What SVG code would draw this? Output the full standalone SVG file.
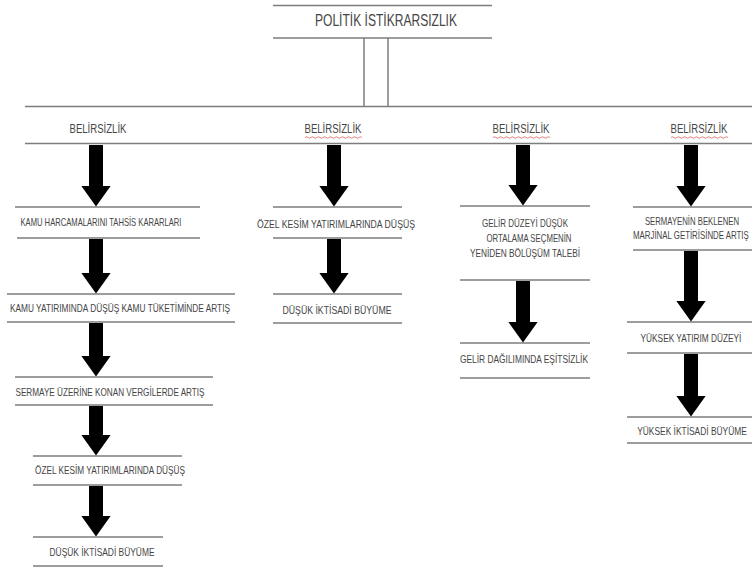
<svg xmlns="http://www.w3.org/2000/svg" xmlns:xlink="http://www.w3.org/1999/xlink" width="752" height="570" viewBox="0 0 752 570">
  <style>
    .rule { stroke: #7d7d7d; stroke-width: 1.5; fill: none; }
    .txt { font-family: "Liberation Sans", Arial, sans-serif; fill: #454545; text-anchor: middle; }
    .title { font-size: 17px; }
    .head { font-size: 12.5px; }
    .lbl { font-size: 10.5px; }
    .shaft { stroke: #000; stroke-width: 14; fill: none; marker-end: url(#head); }
    .squig { stroke: #e07070; stroke-width: 0.9; fill: none; }
  </style>
  <defs>
    <marker id="head" markerUnits="userSpaceOnUse" viewBox="0 -15 21 30" markerWidth="21" markerHeight="30" refX="0.5" refY="0" orient="auto">
      <path d="M0,-15 L21,0 L0,15 Z" fill="#000"/>
    </marker>
    <path id="squiggle" class="squig" d="M0 0 q1.5 -1.5 3 0 t3 0 t3 0 t3 0 t3 0 t3 0 t3 0 t3 0 t3 0 t3 0 t3 0 t3 0 t3 0 t3 0 t3 0 t3 0 t3 0 t3 0 t3 0"/>
  </defs>
  <rect width="752" height="570" fill="#fff"/>

  <!-- top node -->
  <g id="politik-istikrarsizlik">
    <line class="rule" x1="273" y1="5.5" x2="492" y2="5.5"/>
    <text class="txt title" x="386" y="26" textLength="142" lengthAdjust="spacingAndGlyphs">POLİTİK İSTİKRARSIZLIK</text>
    <line class="rule" x1="273" y1="38" x2="492" y2="38"/>
  </g>

  <!-- uncertainty band -->
  <g id="belirsizlik-band">
    <line class="rule" x1="25" y1="106.5" x2="752" y2="106.5"/>
    <line class="rule" x1="25" y1="143.5" x2="752" y2="143.5"/>
  </g>
  <g id="belirsizlik-1">
    <text class="txt head" x="98" y="133" textLength="57" lengthAdjust="spacingAndGlyphs">BELİRSİZLİK</text>
  </g>
  <g id="belirsizlik-2">
    <text class="txt head" x="333" y="133" textLength="57" lengthAdjust="spacingAndGlyphs">BELİRSİZLİK</text>
    <use xlink:href="#squiggle" x="305" y="137.5"/>
  </g>
  <g id="belirsizlik-3">
    <text class="txt head" x="521" y="133" textLength="57" lengthAdjust="spacingAndGlyphs">BELİRSİZLİK</text>
    <use xlink:href="#squiggle" x="493" y="137.5"/>
  </g>
  <g id="belirsizlik-4">
    <text class="txt head" x="699" y="133" textLength="57" lengthAdjust="spacingAndGlyphs">BELİRSİZLİK</text>
    <use xlink:href="#squiggle" x="671" y="137.5"/>
  </g>

  <!-- column 1 -->
  <g id="c1-kamu-harcamalari">
    <line class="rule" x1="15" y1="207" x2="200" y2="207"/>
    <text class="txt lbl" x="101" y="226" textLength="161" lengthAdjust="spacingAndGlyphs">KAMU HARCAMALARINI TAHSİS KARARLARI</text>
    <line class="rule" x1="17" y1="238" x2="200" y2="238"/>
  </g>
  <g id="c1-kamu-yatirimi">
    <line class="rule" x1="7" y1="294" x2="235" y2="294"/>
    <text class="txt lbl" x="120" y="312" textLength="220" lengthAdjust="spacingAndGlyphs">KAMU YATIRIMINDA DÜŞÜŞ KAMU TÜKETİMİNDE ARTIŞ</text>
    <line class="rule" x1="7" y1="322" x2="235" y2="322"/>
  </g>
  <g id="c1-sermaye-vergileri">
    <line class="rule" x1="15" y1="377" x2="213" y2="377"/>
    <text class="txt lbl" x="110" y="396" textLength="189" lengthAdjust="spacingAndGlyphs">SERMAYE ÜZERİNE KONAN VERGİLERDE ARTIŞ</text>
    <line class="rule" x1="15" y1="405" x2="213" y2="405"/>
  </g>
  <g id="c1-ozel-kesim">
    <line class="rule" x1="33" y1="456" x2="182" y2="456"/>
    <text class="txt lbl" x="110" y="474" textLength="150" lengthAdjust="spacingAndGlyphs">ÖZEL KESİM YATIRIMLARINDA DÜŞÜŞ</text>
    <line class="rule" x1="33" y1="485" x2="182" y2="485"/>
  </g>
  <g id="c1-dusuk-buyume">
    <line class="rule" x1="33" y1="537" x2="163" y2="537"/>
    <text class="txt lbl" x="102" y="556" textLength="105" lengthAdjust="spacingAndGlyphs">DÜŞÜK İKTİSADİ BÜYÜME</text>
    <line class="rule" x1="33" y1="566" x2="163" y2="566"/>
  </g>

  <!-- column 2 -->
  <g id="c2-ozel-kesim">
    <line class="rule" x1="273" y1="207" x2="402" y2="207"/>
    <text class="txt lbl" x="336" y="228" textLength="158" lengthAdjust="spacingAndGlyphs">ÖZEL KESİM YATIRIMLARINDA DÜŞÜŞ</text>
    <line class="rule" x1="273" y1="238" x2="402" y2="238"/>
  </g>
  <g id="c2-dusuk-buyume">
    <line class="rule" x1="273" y1="294" x2="402" y2="294"/>
    <text class="txt lbl" x="337" y="314" textLength="109" lengthAdjust="spacingAndGlyphs">DÜŞÜK İKTİSADİ BÜYÜME</text>
    <line class="rule" x1="273" y1="323" x2="402" y2="323"/>
  </g>

  <!-- column 3 -->
  <g id="c3-yeniden-bolusum">
    <line class="rule" x1="460" y1="206" x2="590" y2="206"/>
    <text class="txt lbl" x="525" y="227" textLength="86" lengthAdjust="spacingAndGlyphs">GELİR DÜZEYİ DÜŞÜK</text>
    <text class="txt lbl" x="529" y="242" textLength="85" lengthAdjust="spacingAndGlyphs">ORTALAMA SEÇMENİN</text>
    <text class="txt lbl" x="525" y="257" textLength="110" lengthAdjust="spacingAndGlyphs">YENİDEN BÖLÜŞÜM TALEBİ</text>
    <line class="rule" x1="460" y1="280" x2="590" y2="280"/>
  </g>
  <g id="c3-gelir-esitsizligi">
    <line class="rule" x1="460" y1="343" x2="590" y2="343"/>
    <text class="txt lbl" x="524" y="363" textLength="128" lengthAdjust="spacingAndGlyphs">GELİR DAĞILIMINDA EŞİTSİZLİK</text>
    <line class="rule" x1="460" y1="378" x2="590" y2="378"/>
  </g>

  <!-- column 4: labels near the right edge are squeezed with a horizontal scale -->
  <g id="c4-marjinal-getiri">
    <line class="rule" x1="633" y1="207" x2="752" y2="207"/>
    <text class="txt lbl" transform="translate(692 225) scale(0.74 1)">SERMAYENİN BEKLENEN</text>
    <text class="txt lbl" transform="translate(633 239) scale(0.75 1)" style="text-anchor:start">MARJİNAL GETİRİSİNDE ARTIŞ</text>
    <line class="rule" x1="633" y1="250" x2="752" y2="250"/>
  </g>
  <g id="c4-yuksek-yatirim">
    <line class="rule" x1="627" y1="322" x2="752" y2="322"/>
    <text class="txt lbl" transform="translate(691 342) scale(0.79 1)">YÜKSEK YATIRIM DÜZEYİ</text>
    <line class="rule" x1="627" y1="353" x2="752" y2="353"/>
  </g>
  <g id="c4-yuksek-buyume">
    <line class="rule" x1="627" y1="417" x2="752" y2="417"/>
    <text class="txt lbl" transform="translate(692 435) scale(0.8 1)">YÜKSEK İKTİSADİ BÜYÜME</text>
    <line class="rule" x1="627" y1="443" x2="752" y2="443"/>
  </g>

  <!-- connectors: twin stem below the title, block arrows down each column -->
  <g id="connectors">
    <line class="rule" x1="364" y1="38" x2="364" y2="106.5"/>
    <line class="rule" x1="388" y1="38" x2="388" y2="106.5"/>

    <line class="shaft" x1="96" y1="145" x2="96" y2="186"/>
    <line class="shaft" x1="96" y1="239" x2="96" y2="273"/>
    <line class="shaft" x1="96" y1="323" x2="96" y2="356"/>
    <line class="shaft" x1="96" y1="406" x2="96" y2="435"/>
    <line class="shaft" x1="96" y1="486" x2="96" y2="516"/>

    <line class="shaft" x1="334" y1="145" x2="334" y2="186"/>
    <line class="shaft" x1="334" y1="239" x2="334" y2="273"/>

    <line class="shaft" x1="523" y1="145" x2="523" y2="185"/>
    <line class="shaft" x1="523" y1="281" x2="523" y2="322"/>

    <line class="shaft" x1="691" y1="145" x2="691" y2="186"/>
    <line class="shaft" x1="691" y1="251" x2="691" y2="301"/>
    <line class="shaft" x1="691" y1="354" x2="691" y2="396"/>
  </g>
</svg>
